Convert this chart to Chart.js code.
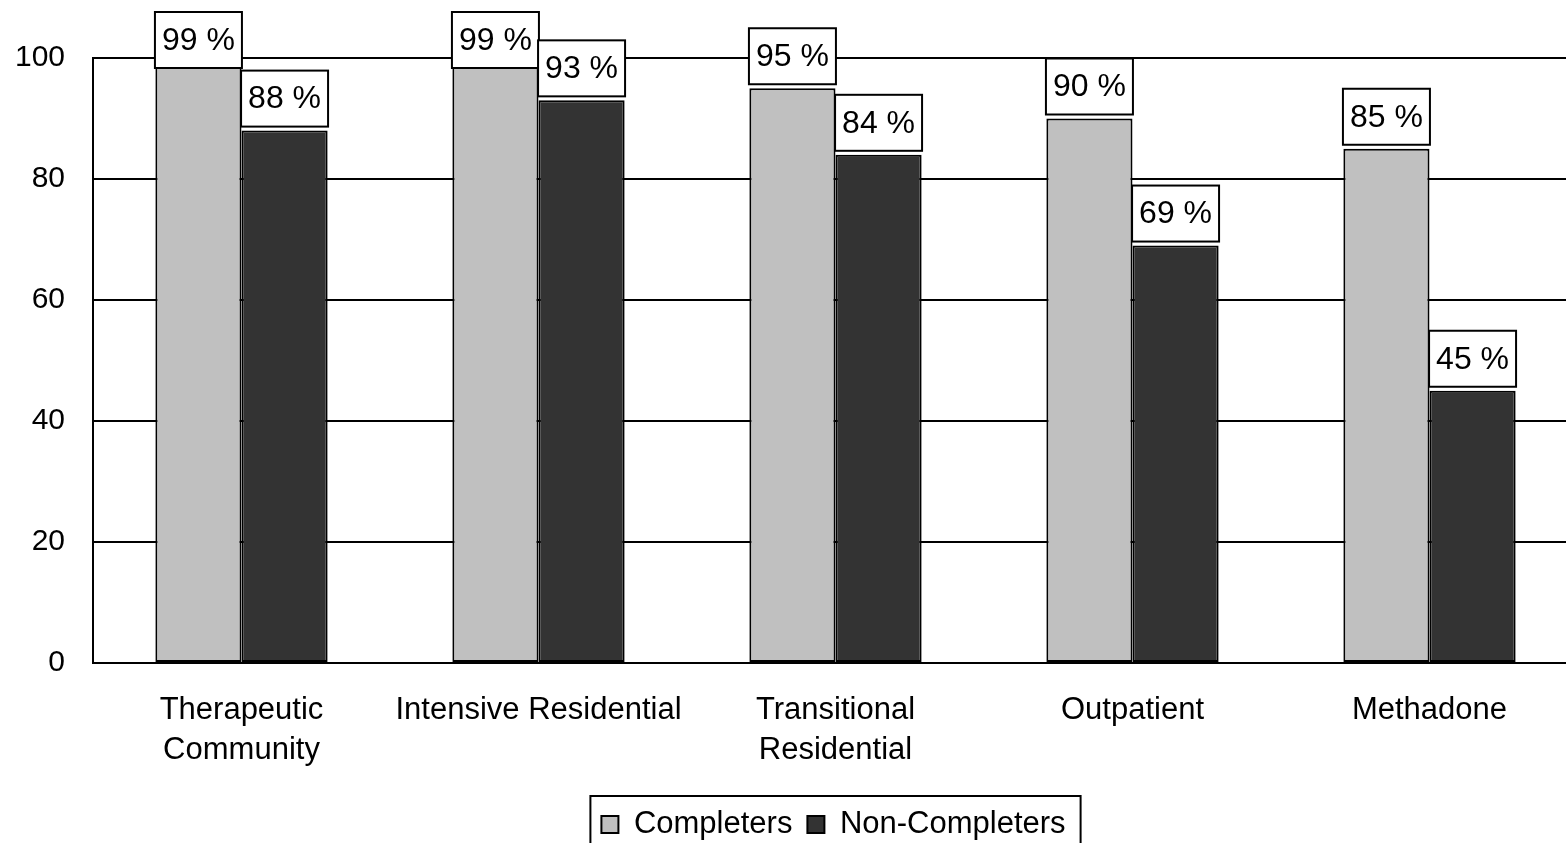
<!DOCTYPE html>
<html>
<head>
<meta charset="utf-8">
<script src="https://cdn.jsdelivr.net/npm/chart.js@4"></script>
<style>
  html, body { margin: 0; padding: 0; background: #ffffff; overflow: hidden; }
  #wrap { width: 1578px; height: 843px; position: relative; }
</style>
</head>
<body>
<div id="wrap"><canvas id="chart"></canvas></div>
<script>
const categories = [
  ["Therapeutic", "Community"],
  "Intensive Residential",
  ["Transitional", "Residential"],
  "Outpatient",
  "Methadone"
];
const completers = [99, 99, 95, 90, 85];
const nonCompleters = [88, 93, 84, 69, 45];
const yTicks = [0, 20, 40, 60, 80, 100];

const fontFamily = "'Liberation Sans', Arial, sans-serif";

// boxed "NN %" labels above each bar
const valueBoxes = {
  id: "valueBoxes",
  afterDatasetsDraw(chart) {
    const ctx = chart.ctx;
    ctx.save();
    ctx.font = "32px " + fontFamily;
    ctx.textAlign = "center";
    ctx.textBaseline = "middle";
    chart.data.datasets.forEach(function (ds, i) {
      const meta = chart.getDatasetMeta(i);
      meta.data.forEach(function (bar, j) {
        const w = 87;
        const h = 56;
        let bottom = bar.y - 4;
        let top = Math.max(12, bottom - h);
        ctx.fillStyle = "#ffffff";
        ctx.fillRect(bar.x - w / 2, top, w, h);
        ctx.lineWidth = 2;
        ctx.strokeStyle = "#000000";
        ctx.strokeRect(bar.x - w / 2, top, w, h);
        ctx.fillStyle = "#000000";
        ctx.fillText(ds.data[j] + " %", bar.x, top + h / 2 + 1);
      });
    });
    ctx.restore();
  }
};

// legend sits a bit right of the canvas centre and a bit lower
const legendShift = {
  id: "legendShift",
  afterLayout(chart) {
    chart.legend.left += 37;
    chart.legend.right += 37;
    chart.legend.top += 7;
    chart.legend.bottom += 7;
  }
};

// border round the legend
const legendBorder = {
  id: "legendBorder",
  afterDraw(chart) {
    const items = chart.legend.legendHitBoxes;
    if (!items || !items.length) return;
    let left = items[0].left - 11;
    let last = items[items.length - 1];
    let right = last.left + last.width + 15;
    let top = chart.legend.top + 2;
    const ctx = chart.ctx;
    ctx.save();
    ctx.lineWidth = 2;
    ctx.strokeStyle = "#000000";
    ctx.strokeRect(left, top, right - left, 60);
    ctx.restore();
  }
};

new Chart(document.getElementById("chart"), {
  type: "bar",
  data: {
    labels: categories,
    datasets: [
      {
        label: "Completers",
        data: completers,
        backgroundColor: "#c0c0c0",
        borderColor: "#000000",
        borderWidth: 2,
        borderSkipped: false
      },
      {
        label: "Non-Completers",
        data: nonCompleters,
        backgroundColor: "#333333",
        borderColor: "#000000",
        borderWidth: 2,
        borderSkipped: false
      }
    ]
  },
  options: {
    responsive: true,
    maintainAspectRatio: false,
    animation: false,
    categoryPercentage: 0.58,
    barPercentage: 1.0,
    layout: {
      padding: { top: 58, left: 15, right: 0, bottom: 0 }
    },
    plugins: {
      tooltip: { enabled: false },
      legend: {
        position: "bottom",
        labels: {
          color: "#000000",
          font: { family: fontFamily, size: 31 },
          boxWidth: 17,
          boxHeight: 17,
          padding: 15
        }
      }
    },
    scales: {
      x: {
        grid: { display: false, drawTicks: false },
        border: { display: true, color: "#000000", width: 2 },
        ticks: {
          color: "#000000",
          padding: 27,
          maxRotation: 0,
          autoSkip: false,
          font: { family: fontFamily, size: 31, lineHeight: 1.29 }
        },
        afterFit: function (scale) {
          scale.height = 124;
        }
      },
      y: {
        min: 0,
        max: 100,
        afterBuildTicks: function (scale) {
          scale.ticks = yTicks.map(function (v) { return { value: v }; });
        },
        afterFit: function (scale) {
          scale.width = 78;
        },
        grid: { color: "#000000", lineWidth: 2, drawTicks: false },
        border: { display: true, color: "#000000", width: 2 },
        ticks: {
          color: "#000000",
          padding: 28,
          font: { family: fontFamily, size: 30 }
        }
      }
    }
  },
  plugins: [legendShift, valueBoxes, legendBorder]
});
</script>
</body>
</html>
